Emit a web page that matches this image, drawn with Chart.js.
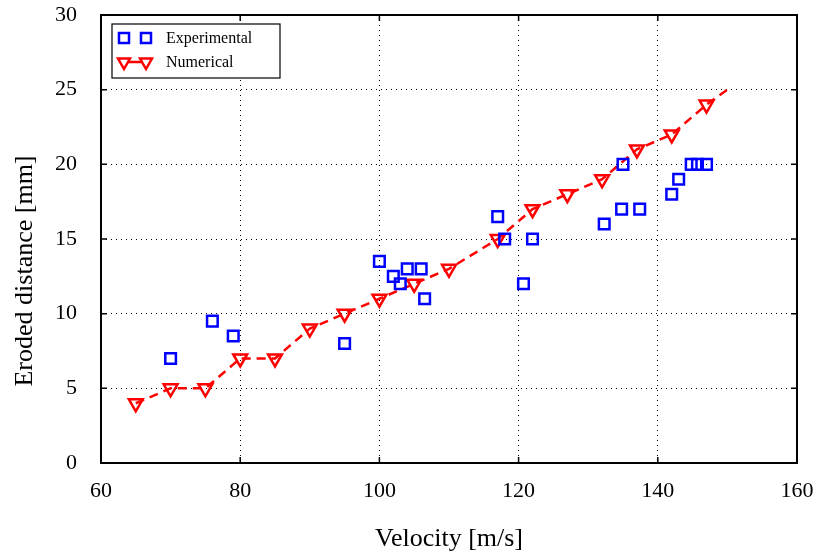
<!DOCTYPE html>
<html>
<head>
<meta charset="utf-8">
<script src="https://cdn.jsdelivr.net/npm/chart.js@4.4.1/dist/chart.umd.min.js"></script>
<style>
  html, body { margin: 0; padding: 0; background: #fff; }
  #wrap { width: 819px; height: 559px; position: relative; }
</style>
</head>
<body>
<div id="wrap"><canvas id="myChart" width="819" height="559"></canvas></div>
<script>
// experimental measurements
const expVelocity = [70, 76, 79, 95, 100, 102, 103, 104, 106, 106.5, 117, 118, 120.7, 122, 132.3, 135, 134.8, 137.4, 142, 143, 144.8, 145.7, 147];
const expDistance = [7, 9.5, 8.5, 8, 13.5, 12.5, 12, 13, 13, 11, 16.5, 15, 12, 15, 16, 20, 17, 17, 18, 19, 20, 20, 20];

// numerical results (last point only continues the dashed line)
const numVelocity = [65, 70, 75, 80, 85, 90, 95, 100, 105, 110, 117, 122, 127, 132, 137, 142, 147, 150];
const numDistance = [4, 5, 5, 7, 7, 9, 10, 11, 12, 13, 15, 17, 18, 19, 21, 22, 24, 25];

const xTicks = [60, 80, 100, 120, 140, 160];
const yTicks = [0, 5, 10, 15, 20, 25, 30];

const serif = "'Liberation Serif', 'DejaVu Serif', serif";

const expPoints = expVelocity.map((v, i) => ({ x: v, y: expDistance[i] }));
const numPoints = numVelocity.map((v, i) => ({ x: v, y: numDistance[i] }));
const numRadius = numVelocity.map((v, i) => i === numVelocity.length - 1 ? 0 : 8);

// box round the plot, inward ticks, y title and the legend box
const framePlugin = {
    id: 'frame',
    afterDraw(chart) {
        const ctx = chart.ctx;
        const a = chart.chartArea;
        const xs = chart.scales.x, ys = chart.scales.y;
        ctx.save();
        ctx.strokeStyle = '#000';
        ctx.lineWidth = 1.5;
        ctx.setLineDash([]);
        xTicks.forEach(t => {
            const px = xs.getPixelForValue(t);
            ctx.beginPath();
            ctx.moveTo(px, a.bottom); ctx.lineTo(px, a.bottom - 6);
            ctx.moveTo(px, a.top); ctx.lineTo(px, a.top + 6);
            ctx.stroke();
        });
        yTicks.forEach(t => {
            const py = ys.getPixelForValue(t);
            ctx.beginPath();
            ctx.moveTo(a.left, py); ctx.lineTo(a.left + 6, py);
            ctx.moveTo(a.right, py); ctx.lineTo(a.right - 6, py);
            ctx.stroke();
        });
        ctx.lineWidth = 2;
        ctx.strokeRect(a.left, a.top, a.right - a.left, a.bottom - a.top);

        // y axis title
        ctx.save();
        ctx.translate(25, 271);
        ctx.rotate(-Math.PI / 2);
        ctx.fillStyle = '#000';
        ctx.font = '26px ' + serif;
        ctx.textAlign = 'center';
        ctx.textBaseline = 'middle';
        ctx.fillText('Eroded distance [mm]', 0, 0);
        ctx.restore();

        // legend
        const lx = a.left + 11, ly = a.top + 9;
        ctx.fillStyle = '#fff';
        ctx.fillRect(lx, ly, 168, 54);
        ctx.lineWidth = 1.2;
        ctx.strokeStyle = '#000';
        ctx.strokeRect(lx, ly, 168, 54);

        const row1 = ly + 14, row2 = ly + 38;
        const m1 = lx + 12, m2 = lx + 34;
        ctx.strokeStyle = '#0000ff';
        ctx.lineWidth = 2.5;
        [m1, m2].forEach(mx => ctx.strokeRect(mx - 5, row1 - 5, 10, 10));
        ctx.strokeStyle = '#ff0000';
        ctx.beginPath();
        ctx.moveTo(m1 + 4, row2); ctx.lineTo(m2 - 4, row2);
        ctx.stroke();
        [m1, m2].forEach(mx => {
            ctx.beginPath();
            ctx.moveTo(mx - 6, row2 - 3.5);
            ctx.lineTo(mx + 6, row2 - 3.5);
            ctx.lineTo(mx, row2 + 7);
            ctx.closePath();
            ctx.stroke();
        });
        ctx.fillStyle = '#000';
        ctx.font = '16px ' + serif;
        ctx.textBaseline = 'middle';
        ctx.textAlign = 'left';
        ctx.fillText('Experimental', lx + 54, row1 + 1);
        ctx.fillText('Numerical', lx + 54, row2 + 1);
        ctx.restore();
    }
};

const ctx = document.getElementById('myChart').getContext('2d');
new Chart(ctx, {
    type: 'scatter',
    data: {
        datasets: [{
            label: 'Numerical',
            data: numPoints,
            showLine: true,
            borderColor: '#ff0000',
            borderWidth: 2.5,
            borderDash: [9, 6],
            pointStyle: 'triangle',
            pointRotation: 180,
            pointRadius: numRadius,
            pointBorderWidth: 2.5,
            pointBorderColor: '#ff0000',
            pointBackgroundColor: 'rgba(0,0,0,0)',
            order: 2
        }, {
            label: 'Experimental',
            data: expPoints,
            showLine: false,
            pointStyle: 'rect',
            pointRadius: 7.5,
            pointBorderWidth: 2.5,
            borderColor: '#0000ff',
            pointBorderColor: '#0000ff',
            pointBackgroundColor: 'rgba(0,0,0,0)',
            order: 1
        }]
    },
    options: {
        responsive: false,
        animation: false,
        layout: { autoPadding: false, padding: { left: 0, right: 22, top: 15, bottom: 0 } },
        plugins: {
            legend: { display: false },
            tooltip: { enabled: false }
        },
        scales: {
            x: {
                type: 'linear',
                min: 60, max: 160,
                afterBuildTicks: s => { s.ticks = xTicks.map(v => ({ value: v })); },
                afterFit: s => { s.height = 96; s.paddingLeft = 0; s.paddingRight = 0; },
                grid: { color: '#000', lineWidth: 1, drawTicks: false },
                border: { display: false, dash: [1, 4] },
                ticks: { color: '#000', padding: 15, font: { family: serif, size: 22 } },
                title: { display: true, text: 'Velocity [m/s]', color: '#000', padding: { top: 7 }, font: { family: serif, size: 26 } }
            },
            y: {
                type: 'linear',
                min: 0, max: 30,
                afterBuildTicks: s => { s.ticks = yTicks.map(v => ({ value: v })); },
                afterFit: s => { s.width = 101; s.paddingTop = 0; s.paddingBottom = 0; },
                grid: { color: '#000', lineWidth: 1, drawTicks: false },
                border: { display: false, dash: [1, 4] },
                ticks: { color: '#000', padding: 24, font: { family: serif, size: 22 } },
                title: { display: false }
            }
        }
    },
    plugins: [framePlugin]
});
</script>
</body>
</html>
